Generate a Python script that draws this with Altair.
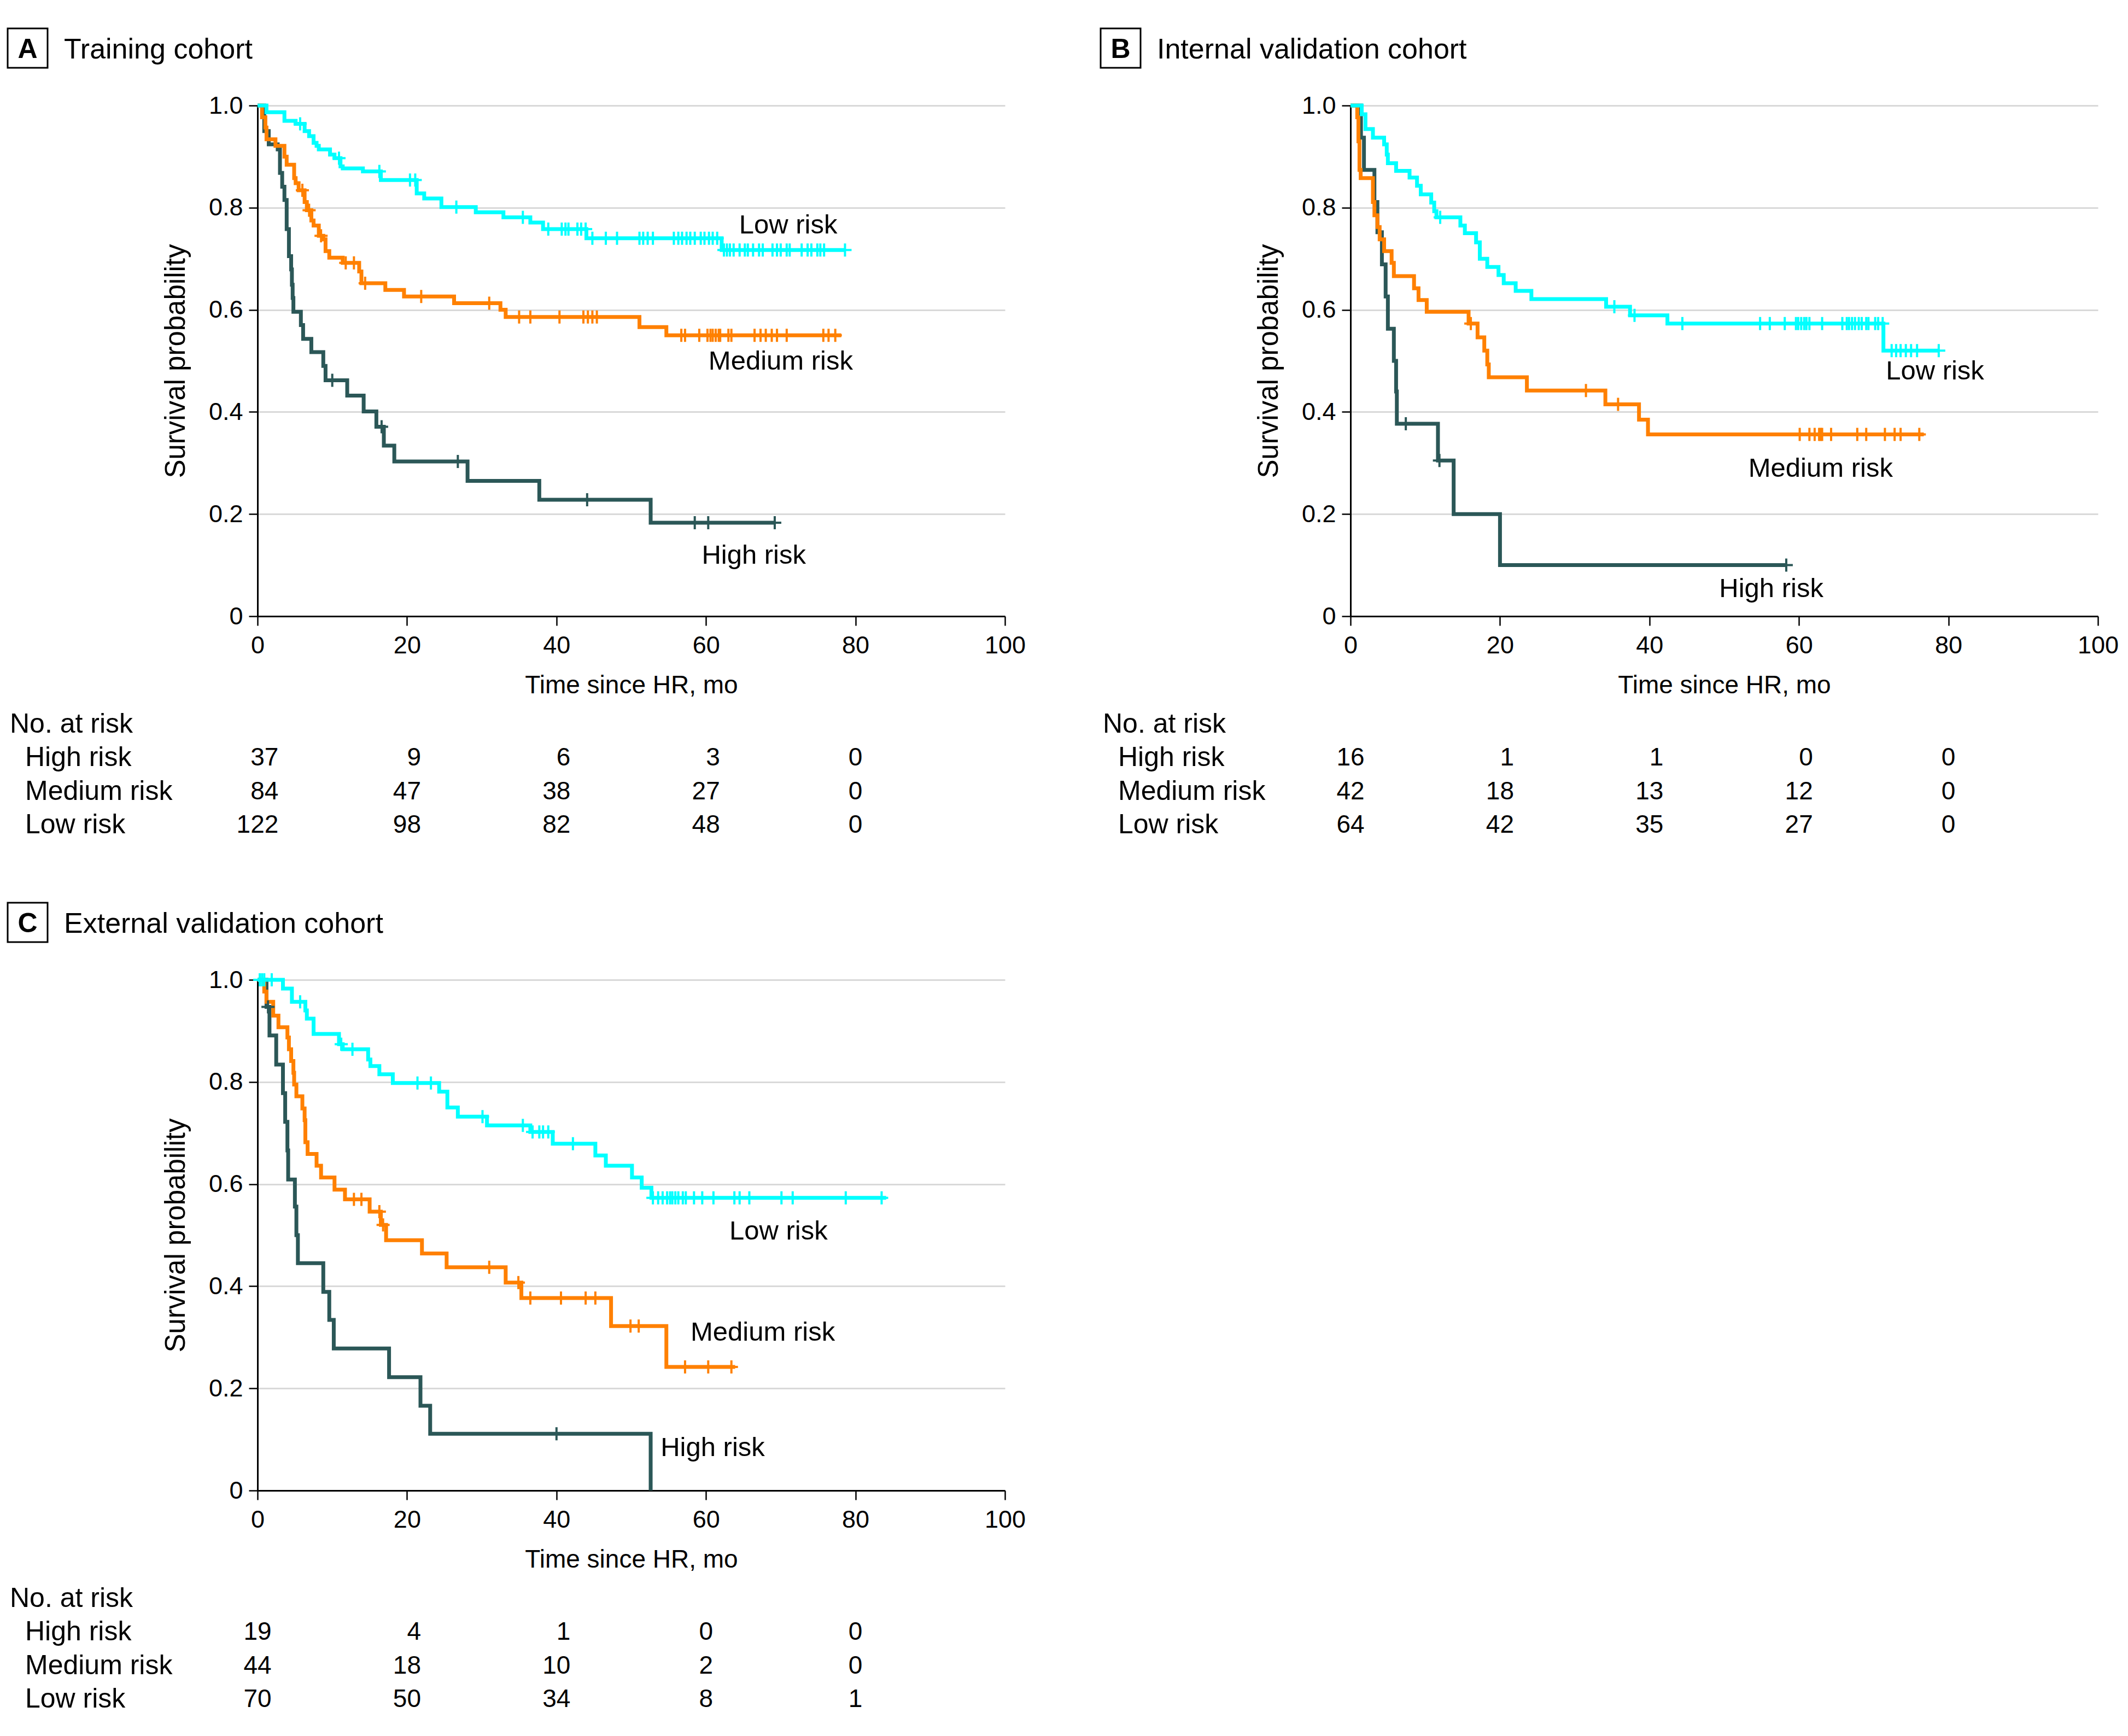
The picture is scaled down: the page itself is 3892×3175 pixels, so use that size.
import altair as alt
import pandas as pd

FONT = "Liberation Sans"
GROUPS = ["High risk", "Medium risk", "Low risk"]
COLORS = ["#2b5757", "#ff8000", "#00ffff"]
ROWS = ["No. at risk", "High risk", "Medium risk", "Low risk"]
RISK_TIMES = [0, 20, 40, 60, 80]
X_TICKS = [0, 20, 40, 60, 80, 100]
Y_TICKS = [0, 0.2, 0.4, 0.6, 0.8, 1.0]

# ---------------- Panel A: Training cohort ----------------
a_high_t = [0, 0.9, 1.5, 2.7, 3.0, 3.3, 3.6, 3.9, 4.2, 4.5, 4.6, 4.7, 4.8, 5.8, 6.1, 7.2, 8.8, 9.1, 12.0, 14.2, 15.9, 16.9, 18.3, 28.1, 37.7, 52.6]
a_high_s = [1.0, 0.95, 0.924, 0.914, 0.868, 0.841, 0.815, 0.758, 0.705, 0.679, 0.649, 0.623, 0.596, 0.570, 0.543, 0.517, 0.490, 0.462, 0.432, 0.401, 0.371, 0.334, 0.303, 0.265, 0.228, 0.183]
a_high_c = [10.0, 16.6, 26.8, 44.1, 58.5, 60.3, 69.2]
a_high_end = 69.2

a_med_t = [0, 0.6, 1.05, 1.2, 2.4, 3.6, 3.9, 4.9, 5.1, 5.5, 6.3, 6.6, 7.2, 7.5, 8.2, 8.8, 9.1, 9.6, 11.4, 13.6, 13.9, 17.1, 19.6, 26.3, 32.5, 33.2, 51.1, 54.7]
a_med_s = [1.0, 0.977, 0.957, 0.934, 0.921, 0.90, 0.884, 0.858, 0.848, 0.834, 0.811, 0.795, 0.775, 0.765, 0.745, 0.738, 0.715, 0.702, 0.692, 0.675, 0.652, 0.639, 0.626, 0.613, 0.600, 0.586, 0.566, 0.550]
a_med_c = [6.0, 6.9, 8.5, 11.8, 12.9, 14.4, 21.9, 31.0, 35.0, 36.5, 40.4, 43.6, 44.2, 44.8, 45.4, 56.7, 57.2, 59.1, 60.2, 60.6, 60.9, 61.3, 61.7, 61.9, 63.0, 63.4, 66.5, 67.3, 68.0, 68.8, 69.5, 70.8, 75.7, 76.4, 77.3]
a_med_end = 78.1

a_low_t = [0, 1.2, 3.6, 5.1, 6.3, 6.9, 7.5, 7.9, 8.2, 9.7, 10.3, 11.1, 11.4, 14.1, 16.5, 21.3, 22.3, 24.6, 29.2, 32.9, 36.5, 38.2, 44.0, 62.1]
a_low_s = [1.0, 0.987, 0.970, 0.964, 0.950, 0.940, 0.927, 0.921, 0.914, 0.904, 0.897, 0.881, 0.877, 0.871, 0.854, 0.828, 0.818, 0.801, 0.791, 0.781, 0.771, 0.758, 0.740, 0.717]
a_low_c = [5.7, 10.9, 16.3, 20.4, 21.1, 26.6, 35.5, 38.9, 40.7, 41.2, 41.6, 42.8, 43.3, 43.9, 44.8, 46.6, 48.1, 51.1, 51.6, 52.2, 52.9, 55.7, 56.3, 56.8, 57.4, 57.9, 58.5, 59.3, 59.8, 60.4, 60.9, 61.5, 62.4, 62.8, 63.2, 63.7, 64.5, 65.2, 65.6, 66.3, 67.1, 67.6, 68.9, 69.5, 70.0, 70.8, 71.2, 72.8, 73.6, 74.1, 74.9, 75.3, 75.8, 78.6]
a_low_end = 78.6

a_label_t = [66.4, 70.0, 71.0]
a_label_s = [0.119, 0.499, 0.765]
a_risk_high = [37, 9, 6, 3, 0]
a_risk_med = [84, 47, 38, 27, 0]
a_risk_low = [122, 98, 82, 48, 0]

# ---------------- Panel B: Internal validation cohort ----------------
b_high_t = [0, 1.4, 1.8, 3.2, 3.6, 4.2, 4.7, 5.0, 5.8, 6.1, 6.2, 11.7, 13.8, 20.0]
b_high_s = [1.0, 0.937, 0.874, 0.811, 0.752, 0.689, 0.626, 0.563, 0.5, 0.44, 0.377, 0.305, 0.2, 0.1]
b_high_c = [7.4, 11.9, 58.3]
b_high_end = 58.3

b_med_t = [0, 0.9, 1.06, 1.2, 1.36, 3.0, 3.2, 3.6, 3.9, 4.5, 5.5, 5.8, 8.5, 9.1, 10.2, 15.8, 17.0, 17.9, 18.3, 18.5, 23.6, 34.1, 38.6, 39.8]
b_med_s = [1.0, 0.977, 0.93, 0.874, 0.858, 0.811, 0.785, 0.762, 0.738, 0.715, 0.692, 0.666, 0.642, 0.619, 0.596, 0.573, 0.546, 0.52, 0.493, 0.468, 0.442, 0.415, 0.385, 0.356]
b_med_c = [16.1, 31.5, 35.8, 60.1, 61.4, 62.1, 62.7, 62.9, 63.1, 64.3, 67.8, 69.0, 71.5, 72.8, 73.6, 76.1]
b_med_end = 76.7

b_low_t = [0, 1.5, 2.0, 3.0, 4.5, 4.85, 5.0, 6.1, 7.9, 8.9, 9.4, 10.8, 11.2, 11.5, 14.7, 15.3, 16.8, 17.3, 18.3, 19.8, 20.5, 22.1, 24.2, 34.2, 37.4, 42.4, 71.3]
b_low_s = [1.0, 0.983, 0.954, 0.937, 0.924, 0.904, 0.887, 0.872, 0.859, 0.843, 0.826, 0.81, 0.793, 0.781, 0.765, 0.75, 0.732, 0.70, 0.684, 0.668, 0.652, 0.637, 0.621, 0.606, 0.589, 0.573, 0.52]
b_low_c = [12.0, 35.3, 38.0, 44.4, 54.8, 56.1, 58.1, 59.6, 59.9, 60.3, 60.7, 61.0, 61.4, 63.1, 65.8, 66.4, 66.7, 67.1, 67.5, 68.0, 68.4, 69.0, 69.3, 70.2, 70.6, 71.2, 72.4, 73.0, 73.6, 74.3, 75.0, 75.8, 78.7]
b_low_end = 78.7

b_label_t = [56.3, 62.9, 78.2]
b_label_s = [0.053, 0.289, 0.48]
b_risk_high = [16, 1, 1, 0, 0]
b_risk_med = [42, 18, 13, 12, 0]
b_risk_low = [64, 42, 35, 27, 0]

# ---------------- Panel C: External validation cohort ----------------
c_high_t = [0, 1.2, 1.6, 2.5, 3.4, 3.7, 4.0, 4.1, 5.0, 5.2, 5.4, 8.8, 9.6, 10.2, 17.6, 21.8, 23.1, 52.6]
c_high_s = [1.0, 0.947, 0.891, 0.834, 0.778, 0.722, 0.666, 0.609, 0.556, 0.5, 0.445, 0.389, 0.334, 0.278, 0.222, 0.166, 0.111, 0.0]
c_high_c = [1.4, 40.0]
c_high_end = 52.6

c_med_t = [0, 0.9, 1.2, 2.1, 2.8, 4.0, 4.2, 4.5, 4.8, 4.9, 5.2, 6.0, 6.3, 6.4, 6.7, 7.9, 8.5, 10.3, 11.7, 15.0, 16.5, 17.2, 22.0, 25.3, 33.2, 35.3, 47.3, 54.7]
c_med_s = [1.0, 0.977, 0.957, 0.93, 0.907, 0.887, 0.864, 0.841, 0.818, 0.795, 0.772, 0.748, 0.725, 0.682, 0.659, 0.636, 0.613, 0.589, 0.57, 0.546, 0.52, 0.49, 0.464, 0.437, 0.407, 0.377, 0.322, 0.242]
c_med_c = [12.9, 13.9, 16.3, 16.8, 31.0, 34.9, 36.5, 40.6, 43.9, 45.2, 49.9, 51.0, 57.2, 60.3, 63.4]
c_med_end = 63.9

c_low_t = [0, 3.4, 4.6, 6.4, 6.6, 7.5, 10.9, 11.4, 14.8, 15.1, 16.3, 18.1, 24.3, 25.4, 26.8, 30.7, 36.5, 39.5, 45.2, 46.6, 50.1, 51.4, 52.7]
c_low_s = [1.0, 0.983, 0.957, 0.940, 0.924, 0.894, 0.874, 0.864, 0.844, 0.831, 0.815, 0.798, 0.781, 0.75, 0.732, 0.715, 0.702, 0.679, 0.656, 0.636, 0.613, 0.593, 0.573]
c_low_c = [0.3, 0.6, 0.9, 1.9, 5.7, 11.2, 12.7, 21.4, 23.2, 30.1, 35.5, 36.8, 37.7, 38.2, 38.9, 42.2, 52.9, 53.6, 54.2, 54.8, 55.2, 55.5, 55.9, 56.3, 56.9, 57.3, 58.4, 59.5, 61.0, 63.8, 64.5, 65.8, 70.1, 71.6, 78.7, 83.5]
c_low_end = 84.1

c_label_t = [60.9, 67.6, 69.7]
c_label_s = [0.084, 0.309, 0.507]
c_risk_high = [19, 4, 1, 0, 0]
c_risk_med = [44, 18, 10, 2, 0]
c_risk_low = [70, 50, 34, 8, 1]

PLUS = "M-1,0L1,0M0,-1L0,1"
PLOT_W = 1367
PLOT_H = 934
NUM_SIZE = 46
DIGIT_W = 0.556 * NUM_SIZE


def step_value(ts, ss, t):
    v = ss[0]
    for ti, si in zip(ts, ss):
        if ti <= t:
            v = si
    return v


def make_panel(letter, title, series, label_t, label_s, risk):
    line_rows, cens_rows = [], []
    for g in GROUPS:
        ts, ss, cs, end = series[g]
        for t, s in zip(ts, ss):
            line_rows.append({"group": g, "time": t, "surv": s})
        if end > ts[-1]:
            line_rows.append({"group": g, "time": end, "surv": ss[-1]})
        for c in cs:
            cens_rows.append({"group": g, "time": c, "surv": step_value(ts, ss, c)})
    line_df = pd.DataFrame(line_rows)
    cens_df = pd.DataFrame(cens_rows)
    lab_df = pd.DataFrame({"label": GROUPS, "time": label_t, "surv": label_s})

    # risk table: each column right-aligned so its widest number is centred on the tick
    risk_rows = []
    for j, t in enumerate(RISK_TIMES):
        wid = max(len(str(risk[g][j])) for g in GROUPS)
        for g in GROUPS:
            risk_rows.append({"row": g, "time": t, "n": str(risk[g][j]), "wid": wid})
    risk_df = pd.DataFrame(risk_rows)

    xs = alt.Scale(domain=[0, 100], nice=False, zero=False)
    ys = alt.Scale(domain=[0, 1], nice=False, zero=False)
    rs = alt.Scale(type="point", domain=ROWS, range=[1132, 1316], padding=0)
    cs = alt.Scale(domain=GROUPS, range=COLORS)

    xaxis = alt.Axis(values=X_TICKS, format="d", grid=False, labelFlush=False,
                     labelFontSize=45, labelPadding=14, tickSize=17, tickWidth=2.5,
                     tickColor="black", domainColor="black", domainWidth=3,
                     title="Time since HR, mo", titleFontSize=46, titlePadding=28)
    yaxis = alt.Axis(values=Y_TICKS,
                     labelExpr="datum.value == 0 ? '0' : format(datum.value, '.1f')",
                     grid=True, gridColor="#d9d9d9", gridWidth=3,
                     labelFontSize=45, labelPadding=11, tickSize=16, tickWidth=2.5,
                     tickColor="black", domainColor="black", domainWidth=3,
                     title="Survival probability", titleFontSize=51, titlePadding=33)

    lines = alt.Chart(line_df).mark_line(
        interpolate="step-after", strokeWidth=7, strokeCap="butt", strokeJoin="miter"
    ).encode(
        x=alt.X("time:Q", scale=xs, axis=xaxis),
        y=alt.Y("surv:Q", scale=ys, axis=yaxis),
        color=alt.Color("group:N", scale=cs, legend=None),
    )
    cens = alt.Chart(cens_df).mark_point(
        shape=PLUS, size=576, filled=False, strokeWidth=4, opacity=1
    ).encode(
        x=alt.X("time:Q", scale=xs),
        y=alt.Y("surv:Q", scale=ys, axis=None),
        color=alt.Color("group:N", scale=cs, legend=None),
    )
    labels = alt.Chart(lab_df).mark_text(
        font=FONT, fontSize=49, color="black", align="center", baseline="middle"
    ).encode(
        x=alt.X("time:Q", scale=xs),
        y=alt.Y("surv:Q", scale=ys, axis=None),
        text="label:N",
    )
    num_layers = []
    for wid in sorted(risk_df["wid"].unique()):
        sub = risk_df[risk_df["wid"] == wid]
        num_layers.append(
            alt.Chart(sub).mark_text(
                font=FONT, fontSize=NUM_SIZE, color="black", align="right",
                baseline="middle", dx=float(wid) * DIGIT_W / 2
            ).encode(
                x=alt.X("time:Q", scale=xs),
                y=alt.Y("row:N", scale=rs, axis=None),
                text="n:N",
            )
        )
    row_labels = alt.Chart(pd.DataFrame({"row": GROUPS})).mark_text(
        font=FONT, fontSize=50, color="black", align="left", baseline="middle"
    ).encode(
        x=alt.value(-425),
        y=alt.Y("row:N", scale=rs, axis=None),
        text="row:N",
    )
    row_head = alt.Chart(pd.DataFrame({"row": ["No. at risk"]})).mark_text(
        font=FONT, fontSize=50, color="black", align="left", baseline="middle"
    ).encode(
        x=alt.value(-453),
        y=alt.Y("row:N", scale=rs, axis=None),
        text="row:N",
    )
    head_df = pd.DataFrame({"letter": [letter], "title": [title]})
    box = alt.Chart(head_df).mark_rect(fill="white", stroke="black", strokeWidth=3).encode(
        x=alt.value(-457), x2=alt.value(-384), y=alt.value(-141), y2=alt.value(-69)
    )
    let = alt.Chart(head_df).mark_text(
        font=FONT, fontSize=50, fontWeight="bold", color="black", align="center", baseline="middle"
    ).encode(x=alt.value(-420.5), y=alt.value(-102), text="letter:N")
    ttl = alt.Chart(head_df).mark_text(
        font=FONT, fontSize=52, color="black", align="left", baseline="middle"
    ).encode(x=alt.value(-354), y=alt.value(-102), text="title:N")

    return alt.layer(
        lines, cens, labels, *num_layers, row_labels, row_head, box, let, ttl
    ).resolve_scale(y="independent").properties(width=PLOT_W, height=PLOT_H)


panel_a = make_panel(
    "A", "Training cohort",
    {"High risk": (a_high_t, a_high_s, a_high_c, a_high_end),
     "Medium risk": (a_med_t, a_med_s, a_med_c, a_med_end),
     "Low risk": (a_low_t, a_low_s, a_low_c, a_low_end)},
    a_label_t, a_label_s,
    {"High risk": a_risk_high, "Medium risk": a_risk_med, "Low risk": a_risk_low},
)
panel_b = make_panel(
    "B", "Internal validation cohort",
    {"High risk": (b_high_t, b_high_s, b_high_c, b_high_end),
     "Medium risk": (b_med_t, b_med_s, b_med_c, b_med_end),
     "Low risk": (b_low_t, b_low_s, b_low_c, b_low_end)},
    b_label_t, b_label_s,
    {"High risk": b_risk_high, "Medium risk": b_risk_med, "Low risk": b_risk_low},
)
panel_c = make_panel(
    "C", "External validation cohort",
    {"High risk": (c_high_t, c_high_s, c_high_c, c_high_end),
     "Medium risk": (c_med_t, c_med_s, c_med_c, c_med_end),
     "Low risk": (c_low_t, c_low_s, c_low_c, c_low_end)},
    c_label_t, c_label_s,
    {"High risk": c_risk_high, "Medium risk": c_risk_med, "Low risk": c_risk_low},
)

chart = alt.concat(
    panel_a, panel_b, panel_c,
    columns=2, spacing={"row": 665, "column": 632}, bounds="flush",
).properties(
    padding={"left": 4, "top": 42, "right": 5, "bottom": 5}
).configure(
    font=FONT
).configure_view(
    stroke="transparent"
).configure_axis(
    labelFont=FONT, titleFont=FONT, labelColor="black", titleColor="black",
    titleFontWeight="normal"
)

chart.save("out.html", embed_options={"renderer": "svg", "actions": False})
